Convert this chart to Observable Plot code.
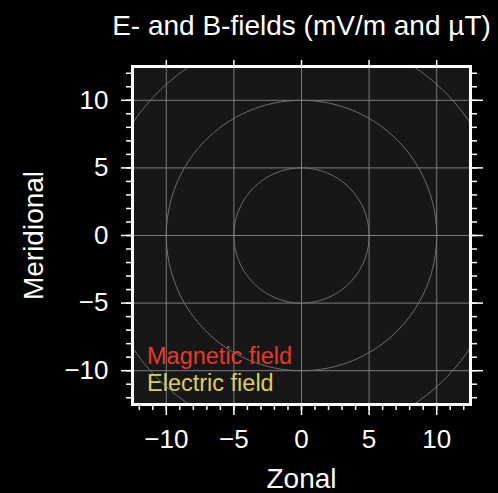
<!DOCTYPE html>
<html><head><meta charset="utf-8">
<script src="https://cdn.jsdelivr.net/npm/d3@7"></script>
<script src="https://cdn.jsdelivr.net/npm/@observablehq/plot@0.6"></script>
<style>html,body{margin:0;padding:0;background:#000;overflow:hidden;}</style>
</head><body><div id="chart"></div>
<script>
const title = "E- and B-fields (mV/m and µT)";
const xLabel = "Zonal";
const yLabel = "Meridional";
const axisDomain = [-12.5, 12.5];
const majorTicks = [-10, -5, 0, 5, 10];
const minorTicks = [-12, -11, -10, -9, -8, -7, -6, -5, -4, -3, -2, -1, 0, 1, 2, 3, 4, 5, 6, 7, 8, 9, 10, 11, 12];
const ringRadii = [5, 10, 15];
const legendLabels = ["Magnetic field", "Electric field"];
const legendColors = ["#e8382c", "#ddcc5e"];

// reference rings (geometric circles of the given radii)
const ringPoints = ringRadii.flatMap(r =>
  d3.range(0, 361, 2).map(a => ({r, x: r * Math.cos(a * Math.PI / 180), y: r * Math.sin(a * Math.PI / 180)}))
);

const font = "'Liberation Sans', Arial, Helvetica, sans-serif";
const tickColor = "#ffffff";

const chart = Plot.plot({
  width: 498,
  height: 493,
  marginLeft: 132,
  marginRight: 28,
  marginTop: 66,
  marginBottom: 89,
  style: {background: "#000", color: "#fff", fontFamily: font, overflow: "visible"},
  x: {domain: axisDomain, label: null},
  y: {domain: axisDomain, label: null},
  marks: [
    Plot.frame({fill: "#171717", stroke: "none"}),
    Plot.line(ringPoints, {x: "x", y: "y", z: "r", stroke: "#6e6e6e", strokeWidth: 1, clip: "frame"}),
    Plot.gridX({ticks: majorTicks, stroke: "#7a7a7a", strokeOpacity: 1, strokeWidth: 1}),
    Plot.gridY({ticks: majorTicks, stroke: "#7a7a7a", strokeOpacity: 1, strokeWidth: 1}),
    // minor ticks
    Plot.axisX({anchor: "bottom", ticks: minorTicks, tickSize: 6, tickFormat: () => "", label: null, stroke: tickColor, strokeWidth: 1.5}),
    Plot.axisY({anchor: "left", ticks: minorTicks, tickSize: 6, tickFormat: () => "", label: null, stroke: tickColor, strokeWidth: 1.5}),
    Plot.axisY({anchor: "right", ticks: minorTicks, tickSize: 6, tickFormat: () => "", label: null, stroke: tickColor, strokeWidth: 1.5}),
    // major ticks
    Plot.axisX({anchor: "bottom", ticks: majorTicks, tickSize: 11, tickPadding: 14, fontSize: 26, label: null, stroke: tickColor, strokeWidth: 1.5, fill: "#fff"}),
    Plot.axisX({anchor: "top", ticks: majorTicks, tickSize: 7, tickFormat: () => "", label: null, stroke: tickColor, strokeWidth: 1.5}),
    Plot.axisY({anchor: "left", ticks: majorTicks, tickSize: 11, tickPadding: 13, fontSize: 26, label: null, stroke: tickColor, strokeWidth: 1.5, fill: "#fff"}),
    Plot.axisY({anchor: "right", ticks: majorTicks, tickSize: 12, tickFormat: () => "", label: null, stroke: tickColor, strokeWidth: 1.5}),
    Plot.frame({stroke: "#fff", strokeWidth: 3}),
    // legend
    Plot.text([legendLabels[0]], {text: d => d, frameAnchor: "bottom-left", textAnchor: "start", lineAnchor: "bottom", dx: 14.5, dy: -40.7, fontSize: 23.5, fill: legendColors[0]}),
    Plot.text([legendLabels[1]], {text: d => d, frameAnchor: "bottom-left", textAnchor: "start", lineAnchor: "bottom", dx: 14.5, dy: -13.3, fontSize: 23.5, fill: legendColors[1]}),
    // title & axis labels
    Plot.text([title], {text: d => d, frameAnchor: "top", textAnchor: "middle", lineAnchor: "bottom", dy: -32, fontSize: 28, fill: "#fff"}),
    Plot.text([xLabel], {text: d => d, frameAnchor: "bottom", textAnchor: "middle", lineAnchor: "bottom", dy: 83, fontSize: 28, fill: "#fff"}),
    Plot.text([yLabel], {text: d => d, frameAnchor: "left", textAnchor: "middle", lineAnchor: "bottom", rotate: -90, dx: -90, fontSize: 28, fill: "#fff"})
  ]
});
document.getElementById("chart").append(chart);
</script>
</body></html>
